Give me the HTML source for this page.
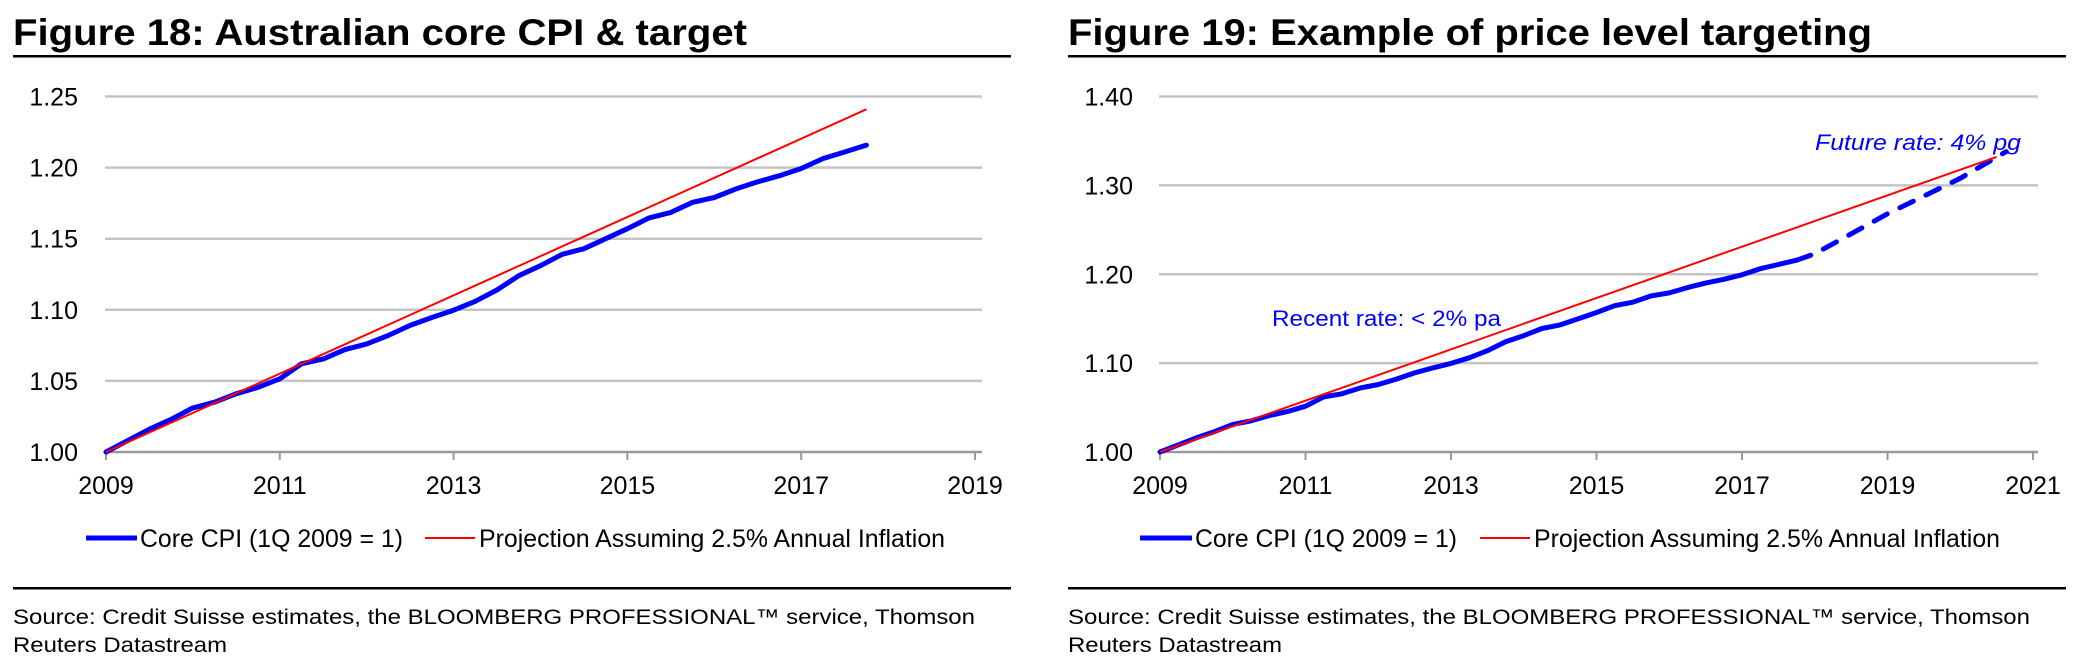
<!DOCTYPE html>
<html><head><meta charset="utf-8"><style>
html,body{margin:0;padding:0;background:#fff;}
svg{display:block;font-family:"Liberation Sans",Arial,sans-serif;}
</style></head><body>
<svg id="root" width="2089" height="663" viewBox="0 0 2089 663" xmlns="http://www.w3.org/2000/svg">
<g>
<text x="13" y="45" font-size="37" font-weight="bold" textLength="734" lengthAdjust="spacingAndGlyphs">Figure 18: Australian core CPI &amp; target</text>
<rect x="13" y="55" width="998" height="2.5" fill="#000"/>
<g id="c1"></g>
<rect x="13" y="587" width="998" height="2.5" fill="#000"/>
<text x="13" y="624" font-size="21.5" textLength="962" lengthAdjust="spacingAndGlyphs">Source: Credit Suisse estimates, the BLOOMBERG PROFESSIONAL™ service, Thomson</text>
<text x="13" y="652" font-size="21.5" textLength="214" lengthAdjust="spacingAndGlyphs">Reuters Datastream</text>
</g>
<g>
<text x="1068" y="45" font-size="37" font-weight="bold" textLength="804" lengthAdjust="spacingAndGlyphs">Figure 19: Example of price level targeting</text>
<rect x="1068" y="55" width="998" height="2.5" fill="#000"/>
<g id="c2"></g>
<rect x="1068" y="587" width="998" height="2.5" fill="#000"/>
<text x="1068" y="624" font-size="21.5" textLength="962" lengthAdjust="spacingAndGlyphs">Source: Credit Suisse estimates, the BLOOMBERG PROFESSIONAL™ service, Thomson</text>
<text x="1068" y="652" font-size="21.5" textLength="214" lengthAdjust="spacingAndGlyphs">Reuters Datastream</text>
<text x="1272" y="326" font-size="22" fill="#0000ff" textLength="229" lengthAdjust="spacingAndGlyphs">Recent rate: &lt; 2% pa</text>
<text x="1815" y="150" font-size="22" font-style="italic" fill="#0000ff" textLength="206" lengthAdjust="spacingAndGlyphs">Future rate: 4% pg</text>
</g>
</svg>
<script>
const cpiYears = [2009,2009.25,2009.5,2009.75,2010,2010.25,2010.5,2010.75,2011,2011.25,2011.5,2011.75,2012,2012.25,2012.5,2012.75,2013,2013.25,2013.5,2013.75,2014,2014.25,2014.5,2014.75,2015,2015.25,2015.5,2015.75,2016,2016.25,2016.5,2016.75,2017,2017.25,2017.5,2017.75];
const cpiValues = [1.000,1.008,1.016,1.023,1.031,1.035,1.041,1.0455,1.0515,1.062,1.0655,1.072,1.076,1.082,1.089,1.0946,1.0997,1.106,1.114,1.124,1.131,1.139,1.143,1.150,1.157,1.1646,1.1685,1.1756,1.179,1.185,1.190,1.1943,1.1994,1.2063,1.211,1.2158];
const projYears1 = [2009, 2017.75];
const projValues1 = [1.000, 1.241];
const projYears2 = [2009, 2020.5];
const projValues2 = [1.000, 1.332];
const futureYears = [2017.75, 2018, 2019, 2020, 2020.63];
const futureValues = [1.2158, 1.223, 1.268, 1.308, 1.338];
const yTicks1 = [1.00,1.05,1.10,1.15,1.20,1.25];
const yTickLabels1 = ["1.00","1.05","1.10","1.15","1.20","1.25"];
const yTicks2 = [1.00,1.10,1.20,1.30,1.40];
const yTickLabels2 = ["1.00","1.10","1.20","1.30","1.40"];
const xTicks1 = [2009,2011,2013,2015,2017,2019];
const xTicks2 = [2009,2011,2013,2015,2017,2019,2021];
const legendLabels = ["Core CPI (1Q 2009 = 1)","Projection Assuming 2.5% Annual Inflation"];

const NS="http://www.w3.org/2000/svg";
function mk(tag, attrs, parent){const e=document.createElementNS(NS,tag);for(const k in attrs)e.setAttribute(k,attrs[k]);parent.appendChild(e);return e;}

function draw(g, cfg){
  const sx=v=>cfg.x0+(v-cfg.xmin)/(cfg.xmax-cfg.xmin)*(cfg.x1-cfg.x0);
  const sy=v=>cfg.yb-(v-cfg.ymin)/(cfg.ymax-cfg.ymin)*(cfg.yb-cfg.yt);
  cfg.yTicks.forEach((t,i)=>{
    if(i>0){const l=mk('line',{x1:cfg.x0-1,x2:cfg.gx1,y1:sy(t),y2:sy(t),stroke:'#c4c4c4','stroke-width':2.5},g);
      
      }
    const tx=mk('text',{x:cfg.ylx,y:sy(t)+9,'font-size':25,'text-anchor':'end'},g);
    tx.textContent=cfg.yLabels[i];
    
    
  });
  const ax=mk('line',{x1:cfg.x0-1,x2:cfg.gx1,y1:cfg.yb,y2:cfg.yb,stroke:'#999','stroke-width':2.5},g);
  
  
  cfg.xTicks.forEach(t=>{
    const tk=mk('line',{x1:sx(t),x2:sx(t),y1:cfg.yb,y2:cfg.yb+8,stroke:'#999','stroke-width':2},g);
    
    
    const tx=mk('text',{x:sx(t),y:cfg.yb+42,'font-size':25,'text-anchor':'middle'},g);
    tx.textContent=String(t);
    
    
  });
  const pts=(xs,ys)=>xs.map((x,i)=>sx(x).toFixed(1)+','+sy(ys[i]).toFixed(1)).join(' ');
  const cpi=mk('polyline',{points:pts(cpiYears,cpiValues),fill:'none',stroke:'#0000ff','stroke-width':5,'stroke-linejoin':'round','stroke-linecap':'round'},g);
  
  
  if(cfg.future){
    const f=mk('polyline',{points:pts(futureYears,futureValues),fill:'none',stroke:'#0000ff','stroke-width':5,'stroke-dasharray':'15 14','stroke-linecap':'round'},g);
    
    
  }
  const pr=mk('polyline',{points:pts(cfg.px,cfg.pv),fill:'none',stroke:'#ff0000','stroke-width':2},g);
  
  
  const L=cfg.leg;
  const b=mk('line',{x1:L[0],x2:L[1],y1:538,y2:538,stroke:'#0000ff','stroke-width':5},g);
  
  
  const t1=mk('text',{x:L[2],y:547,'font-size':25,textLength:L[3]-L[2],lengthAdjust:'spacingAndGlyphs'},g);
  t1.textContent=legendLabels[0];
  
  
  const r=mk('line',{x1:L[4],x2:L[5],y1:538,y2:538,stroke:'#ff0000','stroke-width':2},g);
  
  
  const t2=mk('text',{x:L[6],y:547,'font-size':25,textLength:L[7]-L[6],lengthAdjust:'spacingAndGlyphs'},g);
  t2.textContent=legendLabels[1];
  
  
}
draw(document.getElementById('c1'),{x0:106,x1:975,xmin:2009,xmax:2019,gx1:982,yb:452,yt:96.5,ymin:1.0,ymax:1.25,ylx:78,yTicks:yTicks1,yLabels:yTickLabels1,xTicks:xTicks1,px:projYears1,pv:projValues1,future:false,leg:[86,137,140,403,425,475,479,945]});
draw(document.getElementById('c2'),{x0:1160,x1:2033,xmin:2009,xmax:2021,gx1:2038,yb:452,yt:96.5,ymin:1.0,ymax:1.4,ylx:1133,yTicks:yTicks2,yLabels:yTickLabels2,xTicks:xTicks2,px:projYears2,pv:projValues2,future:true,leg:[1140,1192,1195,1457,1480,1530,1534,2000]});
</script>
</body></html>
